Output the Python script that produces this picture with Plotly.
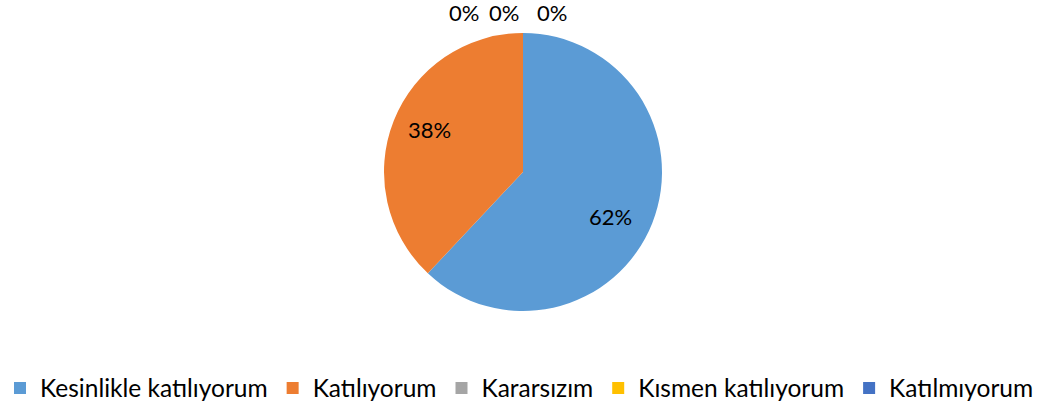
import math
import plotly.graph_objects as go

categories = ["Kesinlikle katılıyorum", "Katılıyorum", "Kararsızım", "Kısmen katılıyorum", "Katılmıyorum"]
values = [62, 38, 0, 0, 0]
colors = ["#5B9BD5", "#ED7D31", "#A5A5A5", "#FFC000", "#4472C4"]

# label placement (layout only): radius factor and nudges in px
label_radius = [0.72, 0.72, 1.15, 1.15, 1.15]
label_nudge_x = [-6, 0, -59, -19, 29]
label_nudge_y = [8, -6, 0, 0, 0]

W, H = 1058, 409
cx, cy, r = 523, 172, 139
FONT = "Lato"

fig = go.Figure(go.Pie(
    labels=categories,
    values=values,
    marker=dict(colors=colors, line=dict(color="white", width=0)),
    sort=False,
    direction="clockwise",
    rotation=0,
    textinfo="none",
    domain=dict(x=[(cx - r) / W, (cx + r) / W], y=[(H - cy - r) / H, (H - cy + r) / H]),
    showlegend=True,
    hoverinfo="label+percent",
))

total = sum(values)
annotations = []
cum = 0.0
for v, rf, nx, ny in zip(values, label_radius, label_nudge_x, label_nudge_y):
    mid = (cum + v / 2) / total * 2 * math.pi  # clockwise from 12 o'clock
    cum += v
    px = cx + rf * r * math.sin(mid) + nx
    py = cy - rf * r * math.cos(mid) + ny
    annotations.append(dict(
        x=px / W, y=1 - py / H, xref="paper", yref="paper",
        text=f"{round(v / total * 100)}%", showarrow=False,
        font=dict(family=FONT, size=22, color="black"),
        xanchor="center", yanchor="middle",
    ))

fig.update_layout(
    width=W, height=H,
    margin=dict(l=0, r=0, t=0, b=0, autoexpand=False),
    paper_bgcolor="white",
    font=dict(family=FONT, size=24, color="black"),
    annotations=annotations,
    legend=dict(orientation="h", x=0, y=(H - 388) / H, xanchor="left", yanchor="middle",
                font=dict(family=FONT, size=24.5, color="black")),
)

fig.write_html("out.html", config={"displayModeBar": False},
               post_script="document.body.style.margin='0px';document.body.style.overflow='hidden';")
